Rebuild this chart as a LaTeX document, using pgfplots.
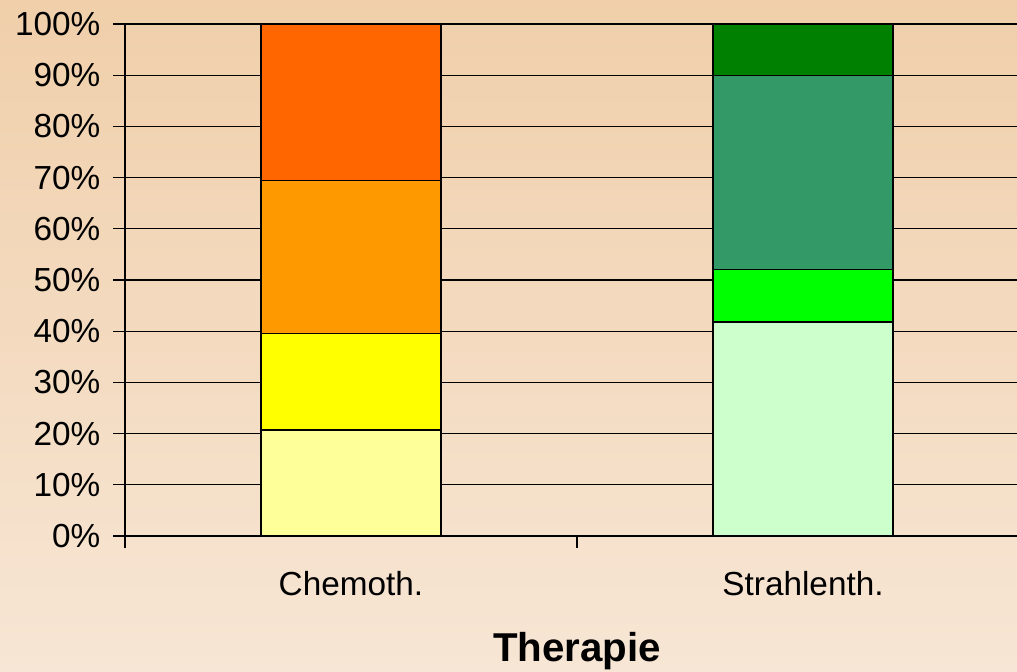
\documentclass[border=0pt]{standalone}
\usepackage{pgfplots}
\pgfplotsset{compat=1.18}
\usepackage{fontspec}
\setmainfont{Liberation Sans}
\definecolor{bgtop}{HTML}{F0CFAA}
\definecolor{bgbot}{HTML}{F7E6D5}
\definecolor{c1}{HTML}{FFFF99}
\definecolor{c2}{HTML}{FFFF00}
\definecolor{c3}{HTML}{FF9900}
\definecolor{c4}{HTML}{FF6600}
\definecolor{s1}{HTML}{CCFFCC}
\definecolor{s2}{HTML}{00FF00}
\definecolor{s3}{HTML}{339966}
\definecolor{s4}{HTML}{008000}
\begin{document}
\begin{tikzpicture}
\shade[top color=bgtop,bottom color=bgbot] (0,0) rectangle (762.75pt,503.25pt);
\useasboundingbox (0,0) rectangle (762.75pt,503.25pt);
\begin{axis}[
  at={(93.75pt,101.25pt)}, anchor=south west,
  scale only axis, width=678pt, height=384pt,
  xmin=0, xmax=2, ymin=0, ymax=100,
  ybar stacked, bar width=135pt,
  axis lines=left, axis line style={black, line width=1.1pt, -},
  ytick={0,10,...,100},
  yticklabel={\pgfmathprintnumber{\tick}\%},
  ymajorgrids, grid style={black, line width=1pt},
  tick align=outside, major tick length=9pt, minor tick length=9pt,
  xtick={0.5,1.5}, xticklabels={Chemoth.,Strahlenth.},
  minor xtick={0,1,2},
  every major x tick/.style={draw=none},
  tick style={black, line width=1pt},
  ticklabel style={font=\fontsize{25}{30}\selectfont},
  xticklabel style={yshift=-13.75pt},
  yticklabel style={xshift=-6pt},
  /pgf/number format/assume math mode=true,
  xlabel={Therapie},
  xlabel style={font=\fontsize{30.2}{36}\selectfont\bfseries, at={(axis description cs:0.5,0)}, anchor=center, yshift=-86.25pt},
  every axis plot/.append style={draw=black, line width=0.8pt},
]
\addplot[fill=c1] coordinates {(0.5,20.7) (1.5,0)};
\addplot[fill=c2] coordinates {(0.5,18.9) (1.5,0)};
\addplot[fill=c3] coordinates {(0.5,29.9) (1.5,0)};
\addplot[fill=c4] coordinates {(0.5,30.5) (1.5,0)};
\addplot[fill=s1] coordinates {(0.5,0) (1.5,41.8)};
\addplot[fill=s2] coordinates {(0.5,0) (1.5,10.2)};
\addplot[fill=s3] coordinates {(0.5,0) (1.5,38.0)};
\addplot[fill=s4] coordinates {(0.5,0) (1.5,10.0)};
\end{axis}
\end{tikzpicture}
\end{document}
